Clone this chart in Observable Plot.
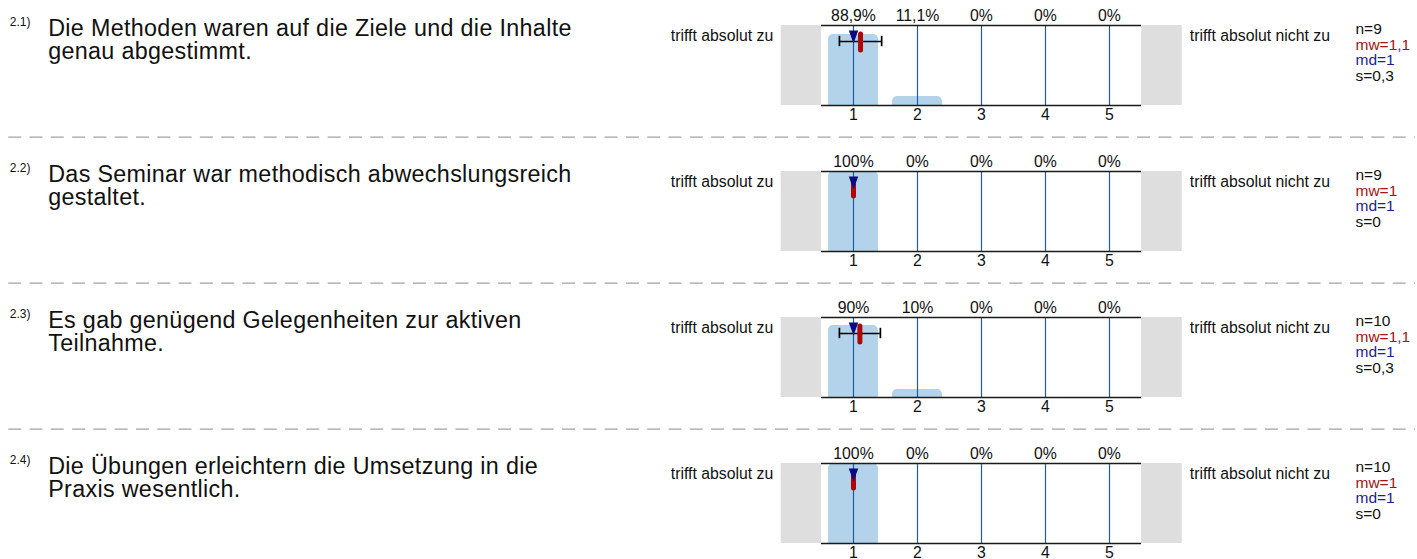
<!DOCTYPE html>
<html><head><meta charset="utf-8">
<script src="https://cdn.jsdelivr.net/npm/d3@7"></script>
<script src="https://cdn.jsdelivr.net/npm/@observablehq/plot@0.6"></script>
<style>
  html, body { margin: 0; padding: 0; background: #fff; }
  #chart svg { display: block; }
</style>
</head><body>
<div id="chart"></div>
<script>
// ---------- data ----------
const items = ["2.1)", "2.2)", "2.3)", "2.4)"];
const questions = [
  "Die Methoden waren auf die Ziele und die Inhalte\ngenau abgestimmt.",
  "Das Seminar war methodisch abwechslungsreich\ngestaltet.",
  "Es gab genügend Gelegenheiten zur aktiven\nTeilnahme.",
  "Die Übungen erleichtern die Umsetzung in die\nPraxis wesentlich."
];
const scaleValues = [1, 2, 3, 4, 5];
const tickLabels = ["1", "2", "3", "4", "5"];
const percents = [
  [88.9, 11.1, 0, 0, 0],
  [100, 0, 0, 0, 0],
  [90, 10, 0, 0, 0],
  [100, 0, 0, 0, 0]
];
const percentLabels = [
  ["88,9%", "11,1%", "0%", "0%", "0%"],
  ["100%", "0%", "0%", "0%", "0%"],
  ["90%", "10%", "0%", "0%", "0%"],
  ["100%", "0%", "0%", "0%", "0%"]
];
const nValues = [9, 9, 10, 10];
const means = [1.11, 1, 1.1, 1];
const medians = [1, 1, 1, 1];
const sds = [0.33, 0, 0.32, 0];
const meanLabels = ["1,1", "1", "1,1", "1"];
const sdLabels = ["0,3", "0", "0,3", "0"];
const leftPole = "trifft absolut zu";
const rightPole = "trifft absolut nicht zu";

// ---------- tables built from the arrays ----------
const bars = items.flatMap((item, i) => scaleValues.map((v, j) => ({
  item, v, pct: percents[i][j], label: percentLabels[i][j], tick: tickLabels[j]
})));
const stats = items.map((item, i) => ({
  item, question: questions[i], n: nValues[i], mean: means[i], median: medians[i],
  sd: sds[i], meanLabel: meanLabels[i], sdLabel: sdLabels[i]
}));
const frameLines = items.flatMap(item => [0, 100].map(y => ({item, y})));

// ---------- style ----------
const FONT = "'Liberation Sans', Arial, Helvetica, sans-serif";
const downTriangle = {
  draw(context) {
    context.moveTo(-4.7, -6.6);
    context.lineTo(4.7, -6.6);
    context.lineTo(0, 6.6);
    context.closePath();
  }
};

const chart = Plot.plot({
  width: 1417,
  height: 559,
  marginLeft: 821,
  marginRight: 276,
  marginTop: 24.3,
  marginBottom: 16.5,
  style: {fontFamily: FONT, background: "#fff", overflow: "visible", color: "#111"},
  x: {domain: [0.5, 5.5], axis: null},
  y: {domain: [0, 100], axis: null},
  fy: {domain: items, axis: null, paddingInner: 0.4545, paddingOuter: 0},
  marks: [
    // dashed separators between items
    Plot.ruleY(stats.slice(0, 3), {fy: "item", y: -39.6, x1: -12.2, x2: 9.78,
      stroke: "#a3a3a3", strokeWidth: 1.3, strokeDasharray: "13,8.3"}),
    // grey side boxes
    Plot.rect(stats, {fy: "item", x1: -0.13, x2: 0.5, fill: "#dedede"}),
    Plot.rect(stats, {fy: "item", x1: 5.5, x2: 6.136, fill: "#dedede"}),
    // histogram bars
    Plot.rect(bars.filter(d => d.pct > 0), {fy: "item", x1: d => d.v - 0.39, x2: d => d.v + 0.39,
      y1: -10, y2: "pct", fill: "#b3d3eb", rx: 5, clip: true}),
    // vertical scale lines
    Plot.ruleX(bars, {fy: "item", x: "v", stroke: "#1f5ca8", strokeWidth: 1.2}),
    // top & bottom lines
    Plot.ruleY(frameLines, {fy: "item", y: "y", stroke: "#1a1a1a", strokeWidth: 1.6}),
    // percentages
    Plot.text(bars, {fy: "item", x: "v", text: "label", frameAnchor: "top", lineAnchor: "bottom",
      dy: -5, fontSize: 15.8}),
    // tick labels
    Plot.text(bars, {fy: "item", x: "v", text: "tick", frameAnchor: "bottom", lineAnchor: "top",
      dy: 3.5, fontSize: 15.8}),
    // pole labels
    Plot.text(stats, {fy: "item", text: () => leftPole, frameAnchor: "top-left", textAnchor: "end",
      lineAnchor: "bottom", dx: -48.3, dy: 15.7, fontSize: 15.8}),
    Plot.text(stats, {fy: "item", text: () => rightPole, frameAnchor: "top-right", textAnchor: "start",
      lineAnchor: "bottom", dx: 48.3, dy: 15.7, fontSize: 15.8}),
    // statistics
    Plot.text(stats, {fy: "item", text: d => `n=${d.n}`, frameAnchor: "top-right", textAnchor: "start",
      lineAnchor: "bottom", dx: 214, dy: 8.5, fontSize: 15.5}),
    Plot.text(stats, {fy: "item", text: d => `mw=${d.meanLabel}`, frameAnchor: "top-right", textAnchor: "start",
      lineAnchor: "bottom", dx: 214, dy: 24.2, fontSize: 15.5, fill: "#9e1616"}),
    Plot.text(stats, {fy: "item", text: d => `md=${d.median}`, frameAnchor: "top-right", textAnchor: "start",
      lineAnchor: "bottom", dx: 214, dy: 39.9, fontSize: 15.5, fill: "#1c1c9c"}),
    Plot.text(stats, {fy: "item", text: d => `s=${d.sdLabel}`, frameAnchor: "top-right", textAnchor: "start",
      lineAnchor: "bottom", dx: 214, dy: 55.6, fontSize: 15.5}),
    // question number & question text
    Plot.text(stats, {fy: "item", text: "item", frameAnchor: "top-left", textAnchor: "start",
      lineAnchor: "bottom", dx: -811.7, dy: 0.5, fontSize: 12}),
    Plot.text(stats, {fy: "item", text: "question", frameAnchor: "top-left", textAnchor: "start",
      lineAnchor: "top", dx: -773.3, dy: -6.5, fontSize: 23.3, lineHeight: 1}),
    // error bar (mean ± s)
    Plot.ruleY(stats.filter(d => d.sd > 0), {fy: "item", y: 80, x1: d => d.mean - d.sd, x2: d => d.mean + d.sd,
      stroke: "#000", strokeWidth: 1.7}),
    Plot.ruleX(stats.filter(d => d.sd > 0), {fy: "item", x: d => d.mean - d.sd, y1: 86.5, y2: 73.5,
      stroke: "#000", strokeWidth: 1.7}),
    Plot.ruleX(stats.filter(d => d.sd > 0), {fy: "item", x: d => d.mean + d.sd, y1: 86.5, y2: 73.5,
      stroke: "#000", strokeWidth: 1.7}),
    // mean
    Plot.ruleX(stats, {fy: "item", x: "mean", y1: 88.9, y2: 68.75, stroke: "#b10606", strokeWidth: 5,
      strokeLinecap: "round"}),
    // median
    Plot.dot(stats, {fy: "item", x: "median", frameAnchor: "top", dy: 11.5, symbol: downTriangle,
      fill: "#0b0b80", stroke: "none"})
  ]
});
// slightly widen the question text (multi-line texts) to match the reference's run length
d3.select(chart).selectAll("text").filter(function () { return this.querySelector("tspan"); })
  .style("letter-spacing", "0.33px");
document.getElementById("chart").appendChild(chart);
</script>
</body></html>
